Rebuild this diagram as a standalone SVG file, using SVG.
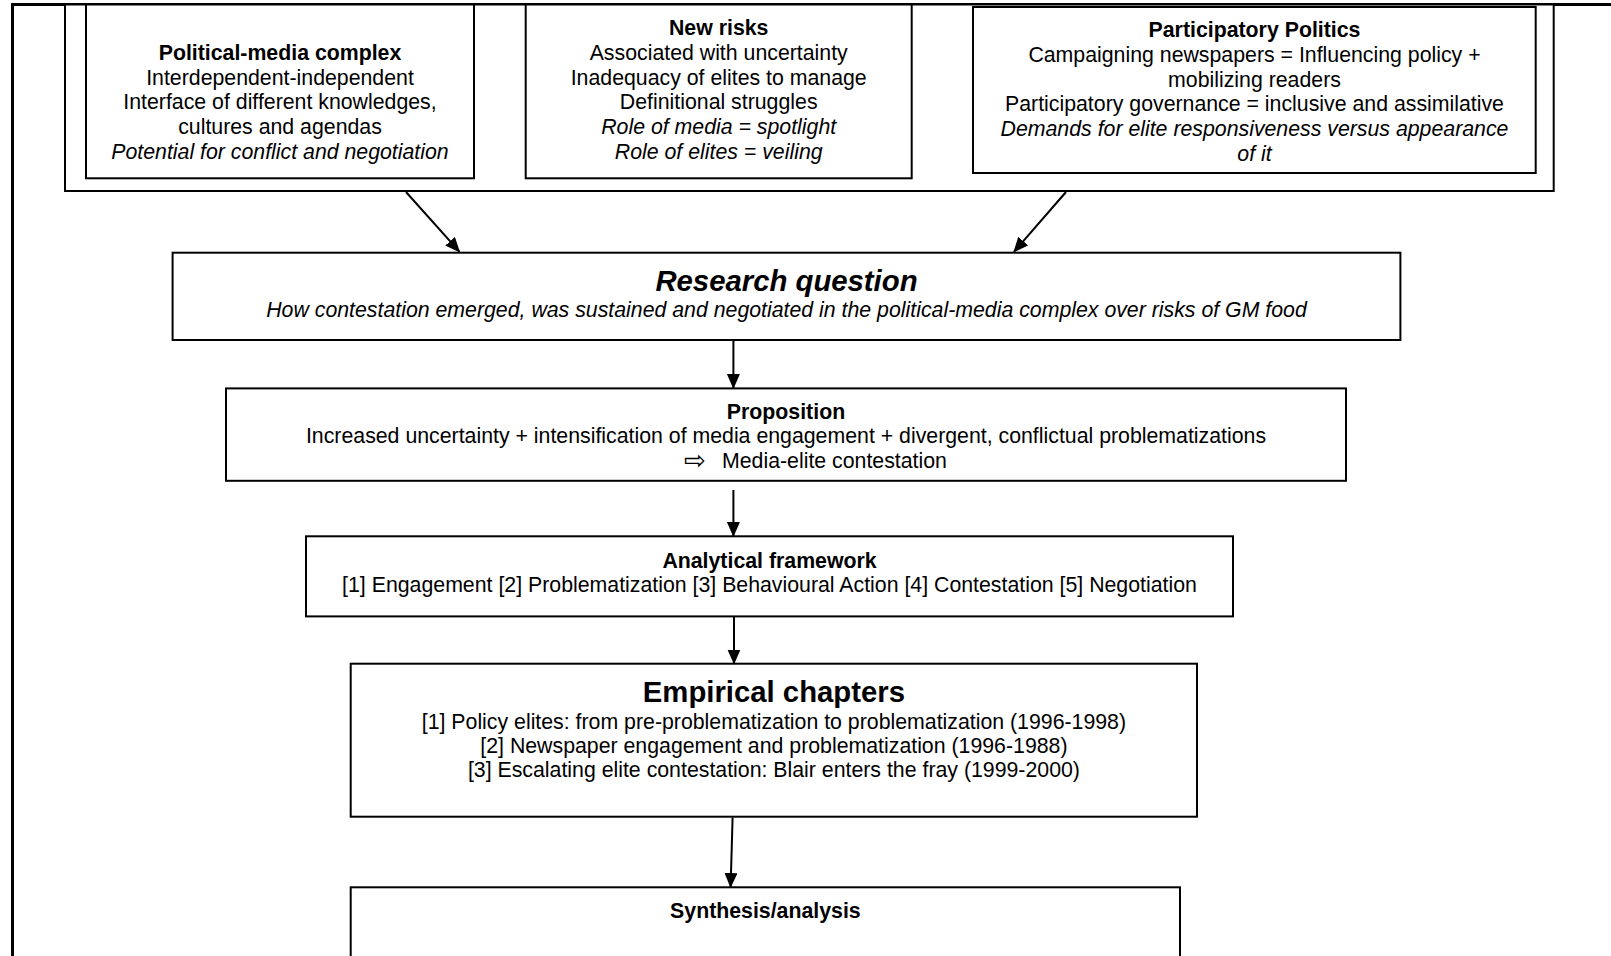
<svg xmlns="http://www.w3.org/2000/svg" width="1611" height="956" viewBox="0 0 1611 956">
<style>
text{font-family:"Liberation Sans",Arial,sans-serif;font-size:21.3px;fill:#000;text-anchor:middle}
.b{font-weight:bold}
.i{font-style:italic}
.big{font-size:29.3px}
.box{fill:#fff;stroke:#000;stroke-width:2}
.con{stroke:#000;stroke-width:2;fill:none}
</style>
<defs>
<marker id="ah" markerUnits="userSpaceOnUse" markerWidth="16" markerHeight="14" refX="14" refY="6.5" orient="auto">
<path d="M0,0 L15,6.5 L0,13 Z" fill="#000"/>
</marker>
</defs>
<rect x="0" y="0" width="1611" height="956" fill="#fff"/>
<g id="frame">
<rect x="12.5" y="4.5" width="1700" height="1100" fill="none" stroke="#000" stroke-width="3"/>
</g>
<g id="context">
<rect x="65" y="4.5" width="1488.7" height="186.5" class="box"/>
</g>
<g id="political-media">
<rect x="86" y="4.5" width="388" height="173.8" class="box"/>
<text x="280" y="60" class="b">Political-media complex</text>
<text x="280" y="84.6">Interdependent-independent</text>
<text x="280" y="109.3">Interface of different knowledges,</text>
<text x="280" y="133.9">cultures and agendas</text>
<text x="280" y="158.6" class="i">Potential for conflict and negotiation</text>
</g>
<g id="new-risks">
<rect x="525.7" y="4.5" width="386" height="173.8" class="box"/>
<text x="718.7" y="35.3" class="b">New risks</text>
<text x="718.7" y="60">Associated with uncertainty</text>
<text x="718.7" y="84.6">Inadequacy of elites to manage</text>
<text x="718.7" y="109.3">Definitional struggles</text>
<text x="718.7" y="133.9" class="i">Role of media = spotlight</text>
<text x="718.7" y="158.6" class="i">Role of elites = veiling</text>
</g>
<g id="participatory">
<rect x="973" y="7" width="562.7" height="166" class="box"/>
<text x="1254.5" y="37.4" class="b">Participatory Politics</text>
<text x="1254.5" y="62">Campaigning newspapers = Influencing policy +</text>
<text x="1254.5" y="86.7">mobilizing readers</text>
<text x="1254.5" y="111.3">Participatory governance = inclusive and assimilative</text>
<text x="1254.5" y="136" class="i">Demands for elite responsiveness versus appearance</text>
<text x="1254.5" y="160.6" class="i">of it</text>
</g>
<g id="research-question">
<rect x="172.6" y="252.7" width="1227.8" height="87.3" class="box"/>
<text x="786.5" y="291" class="b i big">Research question</text>
<text x="786.5" y="316.9" class="i">How contestation emerged, was sustained and negotiated in the political-media complex over risks of GM food</text>
</g>
<g id="proposition">
<rect x="226" y="388.4" width="1120" height="92.4" class="box"/>
<text x="786" y="418.6" class="b">Proposition</text>
<text x="786" y="443.2">Increased uncertainty + intensification of media engagement + divergent, conflictual problematizations</text>
<text x="695" y="469" style="font-family:'DejaVu Sans',sans-serif;font-size:26px">⇨</text>
<text x="722" y="467.9" style="text-anchor:start">Media-elite contestation</text>
</g>
<g id="analytical-framework">
<rect x="306" y="536.3" width="927" height="80.1" class="box"/>
<text x="769.5" y="567.6" class="b">Analytical framework</text>
<text x="769.5" y="592.2">[1] Engagement [2] Problematization [3] Behavioural Action [4] Contestation [5] Negotiation</text>
</g>
<g id="empirical-chapters">
<rect x="350.7" y="663.7" width="846.3" height="153" class="box"/>
<text x="773.9" y="702" class="b big">Empirical chapters</text>
<text x="773.9" y="728.9">[1] Policy elites: from pre-problematization to problematization (1996-1998)</text>
<text x="773.9" y="752.5">[2] Newspaper engagement and problematization (1996-1988)</text>
<text x="773.9" y="777.1">[3] Escalating elite contestation: Blair enters the fray (1999-2000)</text>
</g>
<g id="synthesis">
<rect x="350.7" y="887.3" width="829.3" height="120" class="box"/>
<text x="765.4" y="917.9" class="b">Synthesis/analysis</text>
</g>
<g id="connectors">
<line x1="406" y1="192" x2="459.4" y2="251.7" class="con" marker-end="url(#ah)"/>
<line x1="1066" y1="192" x2="1014" y2="251.7" class="con" marker-end="url(#ah)"/>
<line x1="733.4" y1="341" x2="733.4" y2="388" class="con" marker-end="url(#ah)"/>
<line x1="733.4" y1="490" x2="733.4" y2="536" class="con" marker-end="url(#ah)"/>
<line x1="734" y1="617" x2="734" y2="663.5" class="con" marker-end="url(#ah)"/>
<line x1="732.6" y1="817.5" x2="730.6" y2="887" class="con" marker-end="url(#ah)"/>
</g>
</svg>
